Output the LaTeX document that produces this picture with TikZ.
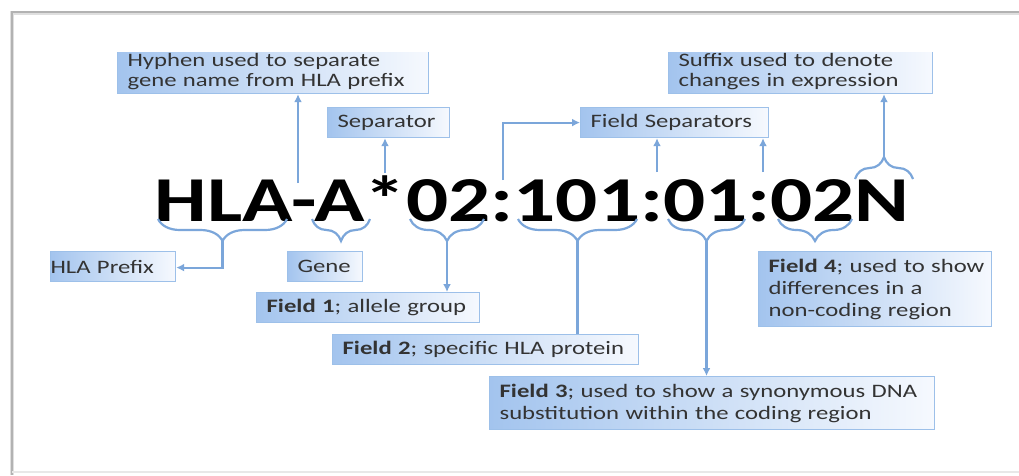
\documentclass[tikz,border=0pt]{standalone}
\usepackage{fontspec}
\usetikzlibrary{arrows.meta,decorations.pathreplacing,calc}
\newfontfamily\lblfont{Carlito}[FakeStretch=1.3]
\definecolor{linkblue}{HTML}{7BA6DA}
\definecolor{boxedge}{HTML}{9DC0E9}
\definecolor{boxleft}{HTML}{A3C4EE}
\definecolor{boxright}{HTML}{F6F9FE}
\definecolor{labeltext}{HTML}{333333}
\tikzset{
  lbl/.style={draw=boxedge, line width=1.2pt, left color=boxleft, right color=boxright,
    text=labeltext, font=\lblfont\fontsize{19}{22}\selectfont,
    anchor=north west, inner xsep=10pt, inner ysep=0pt, align=left},
  box/.style n args={2}{lbl, minimum width=#1, minimum height=#2, text width=#1-20pt},
  arr/.style={draw=linkblue, line width=2.2pt, -{Latex[length=8pt,width=8pt]}},
  plainlink/.style={draw=linkblue, line width=2.2pt},
  brc/.style={draw=linkblue, line width=2.2pt, decorate,
    decoration={brace, amplitude=22pt, aspect=0.5}},
}
\begin{document}
\begin{tikzpicture}[x=1pt,y=-1pt]
\useasboundingbox (0,0) rectangle (1019,475);
% page card edges
\fill[white] (0,0) rectangle (1019,475);
\draw[gray!25, line width=4pt] (12,475) -- (12,13) -- (1019,13);
\draw[gray!60, line width=1.6pt] (12,475) -- (12,12) -- (1019,12);
\draw[gray!18, line width=2pt] (12,472) -- (1019,472);

% the allele name
\node[font=\lblfont\bfseries\fontsize{64}{64}\selectfont, inner sep=0pt, anchor=base]
  (name) at (532,221) {HLA-A*02:101:01:02N};

% upper labels (cut at the top edge of the figure)
\begin{scope}
\clip (0,52) rectangle (1019,475);
\node[box={311pt}{43.5pt}] (hyphen) at (117,49.5)
  {Hyphen used to separate\\[-2pt]gene name from HLA prefix};
\node[box={264pt}{43.5pt}] (suffix) at (668,49.5)
  {Suffix used to denote\\[-2pt]changes in expression};
\end{scope}
\node[box={122pt}{30pt}] (sep) at (327,107) {Separator};
\node[box={188pt}{30pt}] (fsep) at (580,107) {Field Separators};

% lower labels
\begin{scope}
\clip (50,0) rectangle (1019,475);
\node[box={125pt}{30pt}, inner xsep=0pt, text width=125pt] (prefix) at (50,251) {HLA Prefix};
\end{scope}
\node[box={75pt}{30pt}] (gene) at (287,251) {Gene};
\node[box={223pt}{30pt}] (f1) at (256,292) {\textbf{Field 1}; allele group};
\node[box={306pt}{30pt}] (f2) at (332,334) {\textbf{Field 2}; specific HLA protein};
\node[box={445pt}{53pt}] (f3) at (489,376)
  {\mbox{\textbf{Field 3}; used to show a synonymous DNA}\\substitution within the coding region};
\node[box={233pt}{75pt}] (f4) at (758,251)
  {\mbox{\textbf{Field 4}; used to show}\\differences in a\\non-coding region};

% braces marking each part of the name
\draw[brc] (287,219) -- (158,219);
\draw[brc] (370,219) -- (312,219);
\draw[brc] (484,219) -- (410,219);
\draw[brc] (637,219) -- (518,219);
\draw[brc] (745,219) -- (668,219);
\draw[brc] (852,219) -- (778,219);
\draw[brc] (855,179) -- (913,179);

\coordinate (tHLA) at (222.5,241);
\coordinate (t02) at (447,241);
\coordinate (t101) at (577.5,241);
\coordinate (t01) at (706.5,241);
\coordinate (tN) at (884,157);
\coordinate (hy) at (298,183);
\coordinate (ast) at (385,173);
\coordinate (c1) at (503,180);
\coordinate (c2) at (657,172);
\coordinate (c3) at (763,172);

% connectors
\draw[arr] (hy) -- (hy |- hyphen.south);
\draw[arr] (ast) -- (ast |- sep.south);
\draw[arr] (c1) |- (fsep.west);
\draw[arr] (c2) -- (c2 |- fsep.south);
\draw[arr] (c3) -- (c3 |- fsep.south);
\draw[arr] (tN) -- (tN |- suffix.south);
\draw[arr] (tHLA) |- ($(prefix.east)+(0,1)$);
\draw[arr] (t02) -- (t02 |- f1.north);
\draw[plainlink] (t101) -- (t101 |- f2.north);
\draw[arr] (t01) -- (t01 |- f3.north);
\end{tikzpicture}
\end{document}
